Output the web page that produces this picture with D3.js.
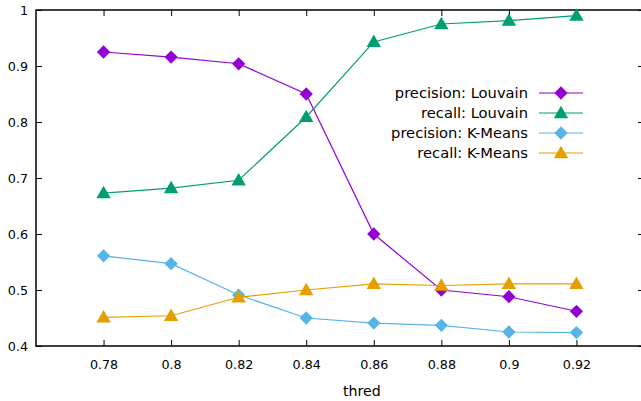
<!DOCTYPE html>
<html lang="en">
<head>
  <meta charset="UTF-8">
  <title>thred chart</title>
  <script src="https://cdn.jsdelivr.net/npm/d3@7"></script>
  <style>
    body { margin: 0; background: #fff; }
    text { font-family: "DejaVu Sans", sans-serif; font-size: 13px; fill: #000; }
  </style>
</head>
<body>
  <div id="chart"></div>
  <script>
    // data
    var thred = [0.78, 0.80, 0.82, 0.84, 0.86, 0.88, 0.90, 0.92];
    var precLouvain = [0.925, 0.916, 0.904, 0.850, 0.600, 0.500, 0.488, 0.462];
    var recLouvain = [0.673, 0.682, 0.696, 0.809, 0.943, 0.975, 0.981, 0.990];
    var precKMeans = [0.561, 0.547, 0.491, 0.450, 0.441, 0.437, 0.425, 0.424];
    var recKMeans = [0.451, 0.454, 0.487, 0.500, 0.511, 0.508, 0.511, 0.511];
    var xTicks = [0.78, 0.80, 0.82, 0.84, 0.86, 0.88, 0.90, 0.92];
    var yTicks = [0.4, 0.5, 0.6, 0.7, 0.8, 0.9, 1];

    var series = [
      { name: "precision: Louvain", values: precLouvain, color: "#9400d3", shape: "diamond" },
      { name: "recall: Louvain", values: recLouvain, color: "#009e73", shape: "triangle" },
      { name: "precision: K-Means", values: precKMeans, color: "#56b4e9", shape: "diamond" },
      { name: "recall: K-Means", values: recKMeans, color: "#e69f00", shape: "triangle" }
    ];

    var W = 641, H = 401;
    var margin = { top: 10, right: -3, bottom: 55, left: 36 };
    var width = W - margin.left - margin.right,
        height = H - margin.top - margin.bottom;

    var svg = d3.select("#chart").append("svg")
        .attr("width", W).attr("height", H);
    var g = svg.append("g")
        .attr("transform", "translate(" + margin.left + "," + margin.top + ")");

    var x = d3.scaleLinear().domain([0.76, 0.94]).range([0, width]);
    var y = d3.scaleLinear().domain([0.4, 1]).range([height, 0]);

    var fmt = function(d) { return d3.format("")(+d.toFixed(2)); };

    // axes with inward ticks, mirrored on top/right like gnuplot
    g.append("g").attr("transform", "translate(0," + height + ")")
      .call(d3.axisBottom(x).tickValues(xTicks).tickSizeInner(-6).tickSizeOuter(0).tickPadding(14).tickFormat(fmt))
      .call(function(a) { a.select(".domain").remove(); });
    g.append("g")
      .call(d3.axisTop(x).tickValues(xTicks).tickSizeInner(-6).tickSizeOuter(0).tickFormat(""))
      .call(function(a) { a.select(".domain").remove(); });
    g.append("g")
      .call(d3.axisLeft(y).tickValues(yTicks).tickSizeInner(-6).tickSizeOuter(0).tickPadding(8).tickFormat(fmt))
      .call(function(a) { a.select(".domain").remove(); });
    g.append("g").attr("transform", "translate(" + width + ",0)")
      .call(d3.axisRight(y).tickValues(yTicks).tickSizeInner(-6).tickSizeOuter(0).tickFormat(""))
      .call(function(a) { a.select(".domain").remove(); });

    g.selectAll(".tick line").attr("stroke", "#000").attr("stroke-width", 1);
    g.selectAll(".tick text").style("font-size", "12.7px").style("font-family", "DejaVu Sans, sans-serif");

    g.append("rect")
      .attr("width", width).attr("height", height)
      .attr("fill", "none").attr("stroke", "#000").attr("stroke-width", 1.5);

    // x label
    g.append("text")
      .attr("x", x(0.8565)).attr("y", height + 50)
      .attr("text-anchor", "middle")
      .style("font-size", "14.2px")
      .text("thred");

    var diamond = d3.symbol().type(d3.symbolSquare).size(88);
    var triangle = d3.symbol().type(d3.symbolTriangle).size(90);

    function marker(sel, s) {
      if (s.shape === "diamond") {
        sel.attr("d", diamond()).attr("transform", function(d) {
          return "translate(" + d[0] + "," + d[1] + ") rotate(45)";
        });
      } else {
        sel.attr("d", triangle()).attr("transform", function(d) {
          return "translate(" + d[0] + "," + (d[1] + 1) + ")";
        });
      }
      sel.attr("fill", s.color);
    }

    var line = d3.line()
      .x(function(d, i) { return x(thred[i]); })
      .y(function(d) { return y(d); });

    series.forEach(function(s) {
      g.append("path")
        .datum(s.values)
        .attr("fill", "none")
        .attr("stroke", s.color)
        .attr("stroke-width", 1.2)
        .attr("d", line);
      var pts = s.values.map(function(v, i) { return [x(thred[i]), y(v)]; });
      g.selectAll(null).data(pts).enter().append("path").call(marker, s);
    });

    // legend
    var lg = svg.append("g");
    series.forEach(function(s, i) {
      var ly = 93 + i * 20;
      lg.append("text")
        .attr("x", 528).attr("y", ly).attr("dy", "0.35em")
        .attr("text-anchor", "end")
        .style("font-size", "14.7px")
        .text(s.name);
      lg.append("line")
        .attr("x1", 539).attr("x2", 583).attr("y1", ly).attr("y2", ly)
        .attr("stroke", s.color).attr("stroke-width", 1.2);
      lg.selectAll(null).data([[561, ly]]).enter().append("path").call(marker, s);
    });
  </script>
</body>
</html>
